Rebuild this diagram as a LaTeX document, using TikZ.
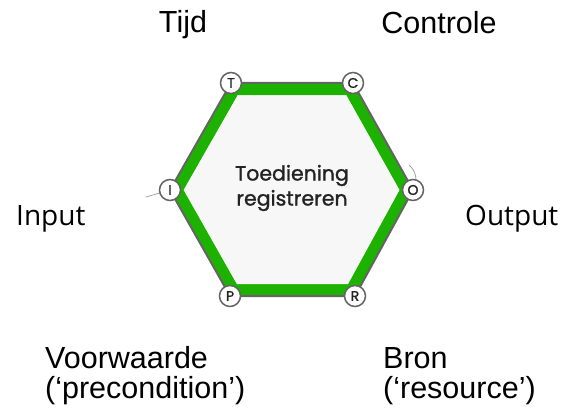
\documentclass[tikz,border=0pt]{standalone}
\usepackage{fontspec}
\setmainfont{Liberation Sans}
\newfontfamily\iofont{Open Sans}
\newfontfamily\hexfont[FakeBold=1.2]{Poppins}
\definecolor{band}{RGB}{30,178,0}
\definecolor{core}{RGB}{247,247,247}
\definecolor{rim}{RGB}{100,100,100}
\definecolor{ink}{RGB}{35,35,35}

\begin{document}
\begin{tikzpicture}[x=1pt,y=-1pt,
  caption/.style={font=\fontsize{30.5}{32}\selectfont, inner sep=0pt},
  iocaption/.style={font=\iofont\fontsize{28}{30}\selectfont, inner sep=0pt},
  port/.style={circle, draw=rim, line width=1.5pt, fill=white,
    minimum size=21pt, inner sep=0pt, text=ink,
    font=\hexfont\fontsize{14}{14}\selectfont},
  stub/.style={draw=rim!60, line width=0.8pt}]
\useasboundingbox (0,0) rectangle (567,414);
\fill[white] (0,0) rectangle (567,414);

% hexagon corners, around the centre (292,190)
\begin{scope}[shift={(292,190)}]
  \coordinate (vT) at (-61,-107);
  \coordinate (vC) at (61,-107);
  \coordinate (vO) at (121,0);
  \coordinate (vR) at (63,106);
  \coordinate (vP) at (-62,106);
  \coordinate (vI) at (-122,0);
  \coordinate (mid) at (0,-2);
\end{scope}

% green band with grey rim
\filldraw[fill=band, draw=rim, line width=2pt, line join=round]
  (vT) -- (vC) -- (vO) -- (vR) -- (vP) -- (vI) -- cycle;

% light core, inset from the band
\begin{scope}[shift={(292,190)}, scale=0.885]
  \fill[core, draw=white, line width=0.6pt]
    (-61,-107) -- (61,-107) -- (121,0) -- (63,106) -- (-62,106) -- (-122,0) -- cycle;
\end{scope}

% short leftover strokes at I and O
\coordinate (stubI) at (146,197);
\coordinate (stubO) at (409,165);
\draw[stub] (stubI) -- (vI);
\draw[stub] (stubO) to[bend left=40] (vO);

% activity name
\node[font=\hexfont\fontsize{20.5}{25}\selectfont, text=ink, align=center] (act) at (mid) {Toediening\\registreren};

% corner ports
\node[port] (T) at (vT) {T};
\node[port] (C) at (vC) {C};
\node[port] (O) at (vO) {O};
\node[port] (R) at (vR) {R};
\node[port] (P) at (vP) {P};
\node[port] (I) at (vI) {I};

% captions
\node[caption, anchor=base] (tijd) at (183,33) {Tijd};
\node[caption, anchor=base] (controle) at (439,34) {Controle};
\node[iocaption, anchor=base west] (input) at (16,225) {Input};
\node[iocaption, anchor=base west] (output) at (465,225) {Output};
\node[caption, anchor=base west] (voorw) at (45,368) {Voorwaarde};
\node[caption, anchor=base west] (precond) at (45,398) {(‘precondition’)};
\node[caption, anchor=base west] (bron) at (383,368) {Bron};
\node[caption, anchor=base west] (resource) at (383,398) {(‘resource’)};
\end{tikzpicture}
\end{document}
